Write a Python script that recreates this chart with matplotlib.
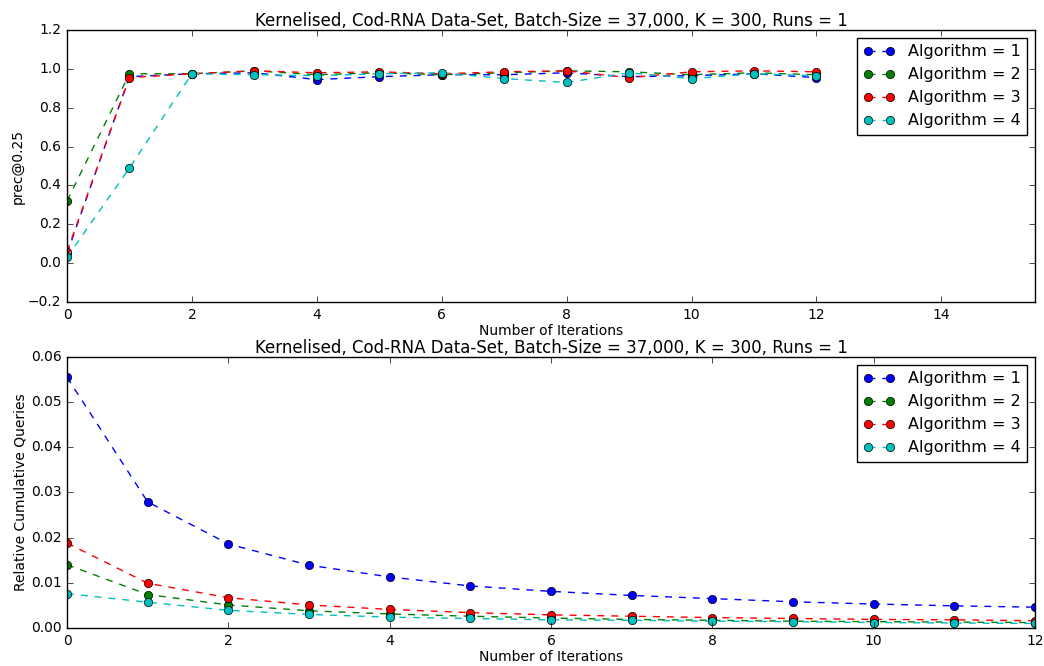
import matplotlib
matplotlib.use('Agg')
import matplotlib.pyplot as plt

# --- donnees ---
iterations = list(range(13))
algos = ['Algorithm = 1', 'Algorithm = 2', 'Algorithm = 3', 'Algorithm = 4']
colors = ['b', 'g', 'r', 'c']

prec_a1 = [0.05, 0.96, 0.975, 0.98, 0.945, 0.96, 0.97, 0.97, 0.98, 0.96, 0.965, 0.975, 0.955]
prec_a2 = [0.32, 0.975, 0.975, 0.99, 0.97, 0.98, 0.97, 0.98, 0.99, 0.985, 0.97, 0.98, 0.97]
prec_a3 = [0.06, 0.955, 0.975, 0.99, 0.98, 0.985, 0.975, 0.985, 0.99, 0.955, 0.985, 0.99, 0.985]
prec_a4 = [0.03, 0.49, 0.975, 0.97, 0.965, 0.975, 0.98, 0.95, 0.93, 0.98, 0.95, 0.975, 0.965]

queries_a1 = [0.0555, 0.0279, 0.0186, 0.0139, 0.0113, 0.0093, 0.0081, 0.0072, 0.0065, 0.0058, 0.0053, 0.0049, 0.0046]
queries_a2 = [0.0140, 0.0074, 0.0051, 0.0038, 0.0031, 0.0026, 0.0022, 0.0019, 0.0017, 0.0015, 0.0014, 0.0013, 0.0012]
queries_a3 = [0.0188, 0.0099, 0.0067, 0.0051, 0.0041, 0.0034, 0.0029, 0.0026, 0.0023, 0.0021, 0.0019, 0.0018, 0.0016]
queries_a4 = [0.0076, 0.0057, 0.0039, 0.0030, 0.0024, 0.0021, 0.0018, 0.0017, 0.0015, 0.0014, 0.0012, 0.0011, 0.0010]

title = 'Kernelised, Cod-RNA Data-Set, Batch-Size = 37,000, K = 300, Runs = 1'

plt.style.use('classic')
plt.rcParams['font.family'] = ['DejaVu Sans']

fig = plt.figure(figsize=(10.44, 6.66), dpi=100, facecolor='white')
ax1 = fig.add_axes([0.0642, 0.5465, 0.9272, 0.4084])
ax2 = fig.add_axes([0.0642, 0.0571, 0.9272, 0.4069])


def draw(ax, series, ylabel, xlim, ylim, yticks):
    for vals, c, lab in zip(series, colors, algos):
        ax.plot(iterations, vals, '--o', color=c, label=lab, linewidth=1,
                markersize=6, markeredgecolor='k', markeredgewidth=0.5,
                dashes=(5, 5))
    ax.set_xlim(*xlim)
    ax.set_ylim(*ylim)
    ax.set_yticks(yticks)
    ax.set_title(title, fontsize=12, pad=3)
    ax.set_xlabel('Number of Iterations', fontsize=10, labelpad=2)
    ax.set_ylabel(ylabel, fontsize=10, labelpad=2)
    ax.tick_params(labelsize=10)
    leg = ax.legend(loc='upper right', numpoints=2, fontsize=11.5)
    leg.get_frame().set_edgecolor('k')


draw(ax1, [prec_a1, prec_a2, prec_a3, prec_a4], 'prec@0.25',
     (0, 15.5), (-0.2, 1.2), [-0.2, 0.0, 0.2, 0.4, 0.6, 0.8, 1.0, 1.2])
ax1.set_xticks([0, 2, 4, 6, 8, 10, 12, 14])

draw(ax2, [queries_a1, queries_a2, queries_a3, queries_a4], 'Relative Cumulative Queries',
     (0, 12), (0, 0.06), [0.0, 0.01, 0.02, 0.03, 0.04, 0.05, 0.06])
ax2.set_xticks([0, 2, 4, 6, 8, 10, 12])

fig.savefig('out.png', dpi=100, facecolor='white')
